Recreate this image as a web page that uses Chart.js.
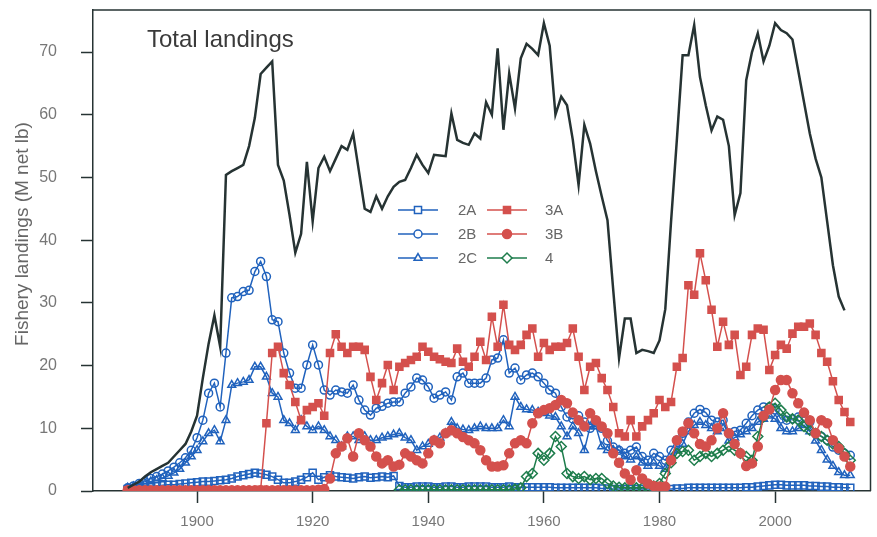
<!DOCTYPE html>
<html>
<head>
<meta charset="utf-8">
<script src="https://cdn.jsdelivr.net/npm/chart.js@4"></script>
<style>
  html, body { margin: 0; padding: 0; background: #fff; }
  #wrap { width: 877px; height: 537px; }
</style>
</head>
<body>
<div id="wrap"><canvas id="landingsChart"></canvas></div>
<script>
// total: 1888..2012, areas: 1888..2013 (area 4 starts 1935)
const firstYear = 1888;
const firstYear4 = 1935;
const xTicks = [1900, 1920, 1940, 1960, 1980, 2000];
const yTicks = [0, 10, 20, 30, 40, 50, 60, 70];

const total = [
  0.5, 1.0, 1.5, 2.3, 3.0, 3.5, 4.0, 4.5, 5.5, 6.5, 7.5, 9.5,
  12.0, 18.0, 23.5, 28.0, 23.0, 50.4, 51.0, 51.5, 52.0, 55.0,
  59.5, 66.5, 67.5, 68.5, 52.0, 49.5, 44.0, 38.0, 41.0, 52.5,
  43.0, 51.5, 53.3, 51.0, 53.0, 55.0, 54.4, 57.0, 51.0, 45.0,
  44.5, 47.0, 45.0, 47.0, 48.5, 49.3, 49.6, 51.5, 53.6, 52.0,
  50.7, 53.6, 53.5, 53.4, 60.2, 56.0, 55.5, 55.2, 57.0, 56.2,
  62.0, 60.0, 70.6, 57.6, 66.6, 61.0, 69.0, 71.3, 70.5, 69.5,
  74.6, 71.0, 60.0, 62.9, 61.5, 56.0, 48.8, 58.4, 55.4, 51.0,
  47.0, 43.2, 32.0, 21.2, 27.5, 27.5, 22.0, 22.5, 22.3, 22.0,
  24.0, 29.0, 43.0, 56.0, 69.5, 69.5, 74.3, 66.0, 61.5, 57.5,
  59.7, 59.2, 55.0, 44.0, 47.5, 65.5, 70.0, 73.0, 68.5, 71.0,
  74.6, 73.5, 73.0, 72.0, 67.0, 62.0, 57.0, 53.0, 50.0, 43.0,
  36.0, 31.0, 28.8
];

const area2A = [
  0.3, 0.4, 0.5, 0.6, 0.7, 0.8, 0.9, 1.0, 1.0, 1.1, 1.2, 1.3,
  1.4, 1.5, 1.5, 1.6, 1.7, 1.8, 2.0, 2.3, 2.5, 2.7,
  2.9, 2.8, 2.6, 2.3, 1.8, 1.3, 1.3, 1.5, 1.8, 2.2,
  2.9, 1.8, 2.2, 2.5, 2.3, 2.2, 2.1, 2.0, 2.2, 2.3,
  2.1, 2.2, 2.3, 2.2, 2.4, 0.8, 0.6, 0.6, 0.7, 0.7,
  0.7, 0.6, 0.6, 0.7, 0.7, 0.6, 0.6, 0.7, 0.7, 0.7,
  0.7, 0.6, 0.6, 0.6, 0.7, 0.6, 0.6, 0.6, 0.6, 0.6,
  0.6, 0.6, 0.5, 0.5, 0.5, 0.5, 0.5, 0.5, 0.5, 0.5,
  0.4, 0.4, 0.3, 0.3, 0.3, 0.3, 0.3, 0.3, 0.3, 0.3,
  0.3, 0.3, 0.3, 0.4, 0.4, 0.5, 0.5, 0.5, 0.5, 0.5,
  0.5, 0.5, 0.5, 0.5, 0.5, 0.6, 0.6, 0.7, 0.8, 0.9,
  1.0, 1.0, 0.9, 0.9, 0.9, 0.9, 0.8, 0.8, 0.7, 0.7,
  0.6, 0.6, 0.5, 0.5
];

const area2B = [
  0.5, 0.8, 1.2, 1.5, 2.0, 2.3, 2.7, 3.2, 3.8, 4.5, 5.3, 6.5,
  8.5, 11.3, 15.6, 17.2, 13.4, 22.0, 30.8, 31.0, 31.8, 32.0,
  35.0, 36.6, 34.2, 27.3, 27.0, 22.0, 18.8, 16.4, 16.4, 20.1,
  23.3, 20.1, 16.1, 15.3, 16.1, 15.8, 15.6, 16.9, 14.5, 12.9,
  12.1, 13.2, 13.5, 14.0, 14.2, 14.2, 15.6, 16.6, 18.0, 17.7,
  16.6, 14.8, 15.3, 15.8, 14.5, 18.2, 18.8, 17.2, 17.2, 17.2,
  18.0, 20.9, 21.2, 24.1, 18.8, 19.6, 17.7, 18.5, 18.8, 18.2,
  17.2, 16.1, 15.6, 13.4, 11.8, 11.5, 12.0, 11.0, 10.0, 11.0,
  10.0, 8.0, 7.0, 6.5, 6.0, 6.5, 7.0, 5.5, 4.9, 6.0,
  5.5, 4.9, 6.5, 8.1, 9.2, 11.0, 12.4, 13.0, 12.5, 11.3,
  11.0, 11.3, 9.2, 9.5, 9.7, 10.8, 12.0, 12.9, 13.4, 13.4,
  12.9, 11.5, 11.3, 11.5, 11.8, 12.4, 11.0, 9.2, 8.7, 8.1,
  7.0, 6.5, 6.0, 5.7
];

const area2C = [
  0.5, 0.7, 1.0, 1.2, 1.5, 1.7, 2.0, 2.4, 2.9, 3.5, 4.5, 5.5,
  6.5, 7.9, 9.2, 9.7, 7.9, 11.3, 16.9, 17.2, 17.4, 17.7,
  19.8, 19.8, 18.2, 15.6, 15.0, 11.3, 10.8, 9.7, 11.3, 10.3,
  9.7, 10.3, 9.7, 8.7, 8.1, 7.1, 8.7, 8.7, 8.1, 8.7,
  8.1, 8.1, 8.5, 8.7, 9.0, 9.2, 8.5, 8.1, 6.5, 7.1,
  7.5, 8.1, 8.5, 9.2, 11.0, 10.0, 9.8, 9.7, 10.0, 10.3,
  10.0, 10.0, 10.0, 11.3, 10.3, 15.0, 13.4, 13.0, 12.9, 12.6,
  12.4, 12.0, 11.8, 10.3, 8.7, 10.3, 9.2, 6.5, 10.3, 10.3,
  7.1, 6.5, 6.5, 6.5, 5.5, 5.0, 5.5, 4.5, 4.0, 4.5,
  4.0, 3.5, 5.0, 6.5, 7.5, 9.5, 10.5, 11.0, 10.5, 10.0,
  9.5, 10.0, 8.0, 8.5, 9.0, 9.5, 10.0, 11.0, 11.5, 12.0,
  11.5, 10.0, 9.5, 9.5, 10.0, 10.5, 9.5, 8.0, 6.5, 5.0,
  4.0, 3.0, 2.5, 2.5
];

const area3A = [
  0.1, 0.1, 0.1, 0.1, 0.1, 0.1, 0.1, 0.1, 0.1, 0.1, 0.1, 0.1,
  0.1, 0.1, 0.1, 0.1, 0.1, 0.1, 0.1, 0.1, 0.1, 0.1,
  0.1, 0.2, 10.8, 22.0, 23.0, 18.8, 16.9, 14.2, 11.3, 12.9,
  13.4, 14.0, 12.0, 22.0, 25.0, 23.0, 22.0, 23.0, 23.0, 22.5,
  18.2, 14.5, 17.2, 20.1, 16.1, 19.8, 20.4, 20.9, 21.4, 23.0,
  22.2, 21.4, 21.0, 20.6, 20.4, 22.7, 20.6, 19.8, 21.4, 23.8,
  20.9, 27.8, 23.0, 29.7, 23.3, 22.5, 23.3, 24.9, 25.9, 21.4,
  23.6, 22.5, 23.0, 23.0, 23.6, 25.9, 21.4, 16.1, 19.8, 20.4,
  18.0, 16.1, 13.4, 9.2, 8.7, 11.3, 8.7, 10.3, 11.3, 12.4,
  14.5, 13.4, 14.2, 19.8, 21.2, 32.8, 31.3, 37.9, 33.6, 28.9,
  23.0, 27.0, 23.3, 24.9, 18.5, 19.8, 24.9, 25.9, 25.7, 19.3,
  21.7, 23.3, 22.7, 25.1, 26.2, 26.2, 26.7, 24.9, 22.0, 20.6,
  17.5, 14.5, 12.6, 11.0
];

const area3B = [
  0.1, 0.1, 0.1, 0.1, 0.1, 0.1, 0.1, 0.1, 0.1, 0.1, 0.1, 0.1,
  0.1, 0.1, 0.1, 0.1, 0.1, 0.1, 0.1, 0.1, 0.1, 0.1,
  0.1, 0.1, 0.1, 0.1, 0.1, 0.1, 0.1, 0.1, 0.1, 0.1,
  0.1, 0.2, 0.3, 2.0, 6.0, 7.1, 8.4, 5.5, 9.2, 8.1,
  7.1, 5.5, 4.4, 4.9, 3.9, 4.2, 6.0, 5.5, 4.9, 4.4,
  6.0, 8.1, 7.6, 9.2, 9.7, 9.2, 8.6, 8.1, 7.6, 6.5,
  4.9, 3.9, 3.9, 4.1, 6.0, 7.6, 8.1, 7.6, 10.8, 12.4,
  12.9, 13.2, 13.7, 14.5, 14.0, 12.5, 11.3, 10.3, 12.4, 11.3,
  10.3, 9.2, 6.0, 4.5, 2.8, 1.8, 3.3, 2.0, 1.2, 0.8,
  0.7, 0.7, 4.9, 8.1, 9.5, 10.8, 9.2, 7.5, 7.1, 8.1,
  10.0, 12.4, 9.2, 7.5, 6.0, 4.0, 4.4, 7.1, 12.0, 13.0,
  16.1, 17.7, 17.7, 15.6, 14.0, 12.5, 11.3, 9.2, 11.3, 10.8,
  8.1, 6.8, 5.5, 3.9
];

const area4 = [
  0.2, 0.2, 0.2, 0.2, 0.2,
  0.2, 0.2, 0.2, 0.2, 0.2, 0.2, 0.2, 0.2, 0.2, 0.2,
  0.2, 0.2, 0.2, 0.2, 0.2, 0.3, 0.5, 2.3, 2.8, 6.0,
  4.9, 6.0, 8.7, 7.1, 2.8, 2.3, 2.0, 2.3, 1.8, 2.0,
  2.0, 1.2, 0.8, 0.6, 0.5, 0.5, 0.5, 0.5, 0.6, 0.8,
  1.2, 2.8, 4.5, 6.0, 6.3, 6.5, 4.9, 5.5, 6.0, 5.5,
  6.0, 6.5, 7.1, 6.5, 6.0, 5.5, 4.9, 8.7, 11.8, 13.4,
  14.0, 12.9, 11.8, 11.5, 11.3, 10.3, 9.7, 9.2, 8.7, 8.1,
  7.5, 7.1, 6.0, 4.9
];

const BLUE = '#2062bd';
const RED = '#d4504d';
const GREEN = '#1e7d4c';
const INK = '#263333';

function toPoints(values, start) {
  return values.map((v, i) => ({ x: start + i, y: v }));
}

function series(label, values, start, color, style, radius, filled) {
  return {
    label: label,
    data: toPoints(values, start),
    borderColor: color,
    backgroundColor: filled ? color : 'rgba(255,255,255,0)',
    pointBorderColor: color,
    pointBackgroundColor: filled ? color : 'rgba(255,255,255,0)',
    borderWidth: 1.5,
    pointBorderWidth: 1.5,
    pointStyle: style,
    pointRadius: radius,
    tension: 0
  };
}

const legendItems = [
  { label: '2A', color: BLUE, style: 'rect', radius: 5, filled: false, col: 0, row: 0 },
  { label: '2B', color: BLUE, style: 'circle', radius: 4, filled: false, col: 0, row: 1 },
  { label: '2C', color: BLUE, style: 'triangle', radius: 4.5, filled: false, col: 0, row: 2 },
  { label: '3A', color: RED, style: 'rect', radius: 5, filled: true, col: 1, row: 0 },
  { label: '3B', color: RED, style: 'circle', radius: 4.5, filled: true, col: 1, row: 1 },
  { label: '4', color: GREEN, style: 'rectRot', radius: 5, filled: false, col: 1, row: 2 }
];

const extrasPlugin = {
  id: 'extras',
  afterDraw(chart) {
    const ctx = chart.ctx;
    const a = chart.chartArea;
    ctx.save();
    // frame top + right
    ctx.strokeStyle = INK;
    ctx.lineWidth = 1.5;
    ctx.beginPath();
    ctx.moveTo(a.left, a.top);
    ctx.lineTo(a.right, a.top);
    ctx.lineTo(a.right, a.bottom);
    ctx.stroke();

    // panel label
    ctx.fillStyle = '#3a3a3a';
    ctx.font = '24px "Liberation Sans", Arial, sans-serif';
    ctx.textBaseline = 'alphabetic';
    ctx.textAlign = 'left';
    ctx.fillText('Total landings', 147, 47);

    // y axis title
    ctx.save();
    ctx.translate(23, 234);
    ctx.rotate(-Math.PI / 2);
    ctx.textAlign = 'center';
    ctx.textBaseline = 'middle';
    ctx.fillStyle = '#666';
    ctx.font = '19px "Liberation Sans", Arial, sans-serif';
    ctx.fillText('Fishery landings (M net lb)', 0, 0);
    ctx.restore();

    // legend, two columns
    const rowsY = [210, 234, 258];
    const colX = [398, 487];
    const textX = [458, 545];
    ctx.font = '15px "Liberation Sans", Arial, sans-serif';
    ctx.textBaseline = 'middle';
    ctx.textAlign = 'left';
    legendItems.forEach(it => {
      const y = rowsY[it.row];
      const x0 = colX[it.col];
      ctx.strokeStyle = it.color;
      ctx.lineWidth = 1.5;
      ctx.beginPath();
      ctx.moveTo(x0, y);
      ctx.lineTo(x0 + 40, y);
      ctx.stroke();
      ctx.fillStyle = it.filled ? it.color : '#ffffff';
      Chart.helpers.drawPoint(ctx, {
        pointStyle: it.style, radius: it.radius, rotation: 0, borderWidth: 1.5
      }, x0 + 20, y);
      ctx.fillStyle = '#666';
      ctx.fillText(it.label, textX[it.col], y + 1);
    });
    ctx.restore();
  }
};

function noPad(s) {
  s.paddingTop = 0;
  s.paddingBottom = 0;
  s.paddingLeft = 0;
  s.paddingRight = 0;
}

new Chart(document.getElementById('landingsChart'), {
  type: 'line',
  data: {
    datasets: [
      {
        label: 'Total landings',
        data: toPoints(total, firstYear),
        borderColor: INK,
        borderWidth: 2.5,
        pointRadius: 0,
        tension: 0
      },
      series('3A', area3A, firstYear, RED, 'rect', 5, true),
      series('3B', area3B, firstYear, RED, 'circle', 4.5, true),
      series('4', area4, firstYear4, GREEN, 'rectRot', 5, false),
      series('2A', area2A, firstYear, BLUE, 'rect', 5, false),
      series('2C', area2C, firstYear, BLUE, 'triangle', 4.5, false),
      series('2B', area2B, firstYear, BLUE, 'circle', 4, false)
    ]
  },
  options: {
    responsive: true,
    maintainAspectRatio: false,
    animation: false,
    devicePixelRatio: 1,
    layout: { padding: { top: 10, right: 4, left: 0, bottom: 0 } },
    plugins: {
      legend: { display: false },
      tooltip: { enabled: false }
    },
    scales: {
      x: {
        type: 'linear',
        min: 1882,
        max: 2016.5,
        afterBuildTicks: s => { s.ticks = xTicks.map(v => ({ value: v })); },
        afterFit: s => { s.height = 46; noPad(s); },
        grid: { drawOnChartArea: false, drawTicks: true, tickLength: 12, tickColor: INK, tickWidth: 1.5 },
        border: { display: true, color: INK, width: 1.5 },
        ticks: {
          padding: 10,
          color: '#777',
          font: { family: '"Liberation Sans", Arial, sans-serif', size: 15 },
          maxRotation: 0,
          autoSkip: false,
          callback: v => String(v)
        }
      },
      y: {
        min: 0,
        max: 76.7,
        afterBuildTicks: s => { s.ticks = yTicks.map(v => ({ value: v })); },
        afterFit: s => { s.width = 93; noPad(s); },
        grid: { drawOnChartArea: false, drawTicks: true, tickLength: 12, tickColor: INK, tickWidth: 1.5 },
        border: { display: true, color: INK, width: 1.5 },
        ticks: {
          padding: 24,
          color: '#777',
          font: { family: '"Liberation Sans", Arial, sans-serif', size: 16 }
        }
      }
    }
  },
  plugins: [extrasPlugin]
});
</script>
</body>
</html>
